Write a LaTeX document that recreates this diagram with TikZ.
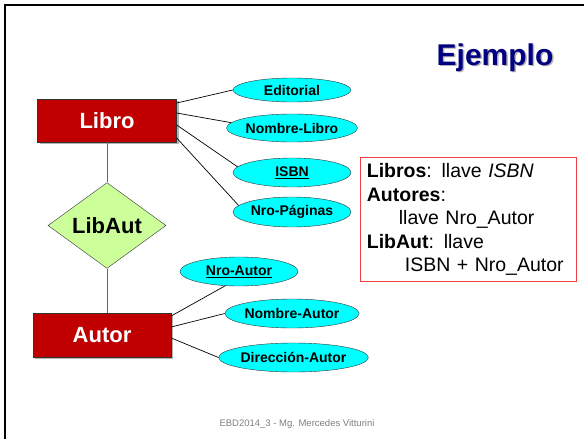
\documentclass[tikz,border=0pt]{standalone}
\usepackage{fontspec}
\setmainfont{Liberation Sans}
\usetikzlibrary{shapes.geometric,shadows}
\definecolor{vino}{RGB}{192,0,0}
\definecolor{verde}{RGB}{204,255,153}
\definecolor{celeste}{RGB}{0,255,255}
\definecolor{marino}{RGB}{0,0,128}
\definecolor{rojo}{RGB}{238,64,64}
\tikzset{
  entidad/.style={draw=black!80,fill=vino,text=white,
    font=\fontsize{22}{26}\selectfont\bfseries,
    minimum width=139pt,minimum height=43pt,inner sep=0pt,
    drop shadow={shadow xshift=2pt,shadow yshift=-2pt,fill=black!50,opacity=0.6}},
  relacion/.style={diamond,draw=black!80,fill=verde,
    font=\fontsize{22}{26}\selectfont\bfseries,
    minimum width=118pt,minimum height=77pt,inner sep=0pt},
  atributo/.style={ellipse,draw=black!80,fill=celeste,
    font=\fontsize{14}{16}\selectfont\bfseries,
    minimum width=118pt,minimum height=28pt,inner sep=0pt},
  enlace/.style={black,line width=0.7pt},
  vertical/.style={black!60,line width=1pt}
}
\begin{document}
\begin{tikzpicture}[x=1pt,y=-1pt]
  \useasboundingbox (0,0) rectangle (584,439);
  \fill[white] (0,0) rectangle (584,439);
  \draw[line width=2.6pt] (5,439) -- (5,5) -- (584,5);

  \begin{scope}[font=\fontsize{30}{34}\selectfont\bfseries]
    \node[anchor=base,text=black!30] (sombra) at (496.5,66.5) {Ejemplo};
    \node[anchor=base,text=marino] (titulo) at (495,65) {Ejemplo};
  \end{scope}

  \node[entidad] (libro) at (107,120.5) {Libro};
  \node[relacion] (libaut) at (107,225.5) {LibAut};
  \node[entidad,minimum width=138pt,minimum height=44pt] (autor) at (102,335) {Autor};

  \node[atributo,minimum height=24pt] (editorial) at (292,90) {Editorial};
  \node[atributo] (nomlibro) at (292,128) {Nombre-Libro};
  \node[atributo,minimum height=29pt] (isbn) at (292,172.5) {\underline{ISBN}};
  \node[atributo,minimum height=30pt] (paginas) at (292,212) {Nro-Páginas};
  \node[atributo,minimum height=29pt] (nroautor) at (239,271.5) {\underline{Nro-Autor}};
  \node[atributo,minimum height=29pt] (nomautor) at (292,313.5) {Nombre-Autor};
  \node[atributo,minimum width=121pt,minimum height=29pt] (direccion) at (293.5,357.5) {Dirección-Autor};

  \draw[vertical] (libro.south) -- (libaut.north);
  \draw[vertical] (libaut.south) -- (autor.north -| libaut.south);

  \draw[enlace] ([yshift=17.5pt]libro.east) -- (editorial.west);
  \draw[enlace] ([yshift=7.5pt]libro.east) -- (nomlibro.175);
  \draw[enlace] ([yshift=-4.5pt]libro.east) -- (isbn.174);
  \draw[enlace] ([yshift=-17.5pt]libro.east) -- (paginas.173);
  \draw[enlace] ([yshift=19pt]autor.east) -- (nroautor.226);
  \draw[enlace] ([yshift=8pt]autor.east) -- (nomautor.west);
  \draw[enlace] ([yshift=-3pt]autor.east) -- (direccion.west);

  \node[draw=rojo,line width=0.8pt,anchor=north west,align=left,
        text width=203pt,inner xsep=6.5pt,inner ysep=6pt,
        font=\fontsize{19.5}{23.5}\selectfont] (llaves) at (360,157)
    {\textbf{Libros}: llave \textit{ISBN}\\
     \textbf{Autores}:\\
     \hspace*{32pt}llave Nro\_Autor\\
     \textbf{LibAut}: llave\\
     \hspace*{38pt}ISBN + Nro\_Autor};

  \node[anchor=base,text=black!50,font=\fontsize{9.5}{11}\selectfont] (pie) at (297,426)
    {EBD2014\_3 - Mg. Mercedes Vitturini};
\end{tikzpicture}
\end{document}
